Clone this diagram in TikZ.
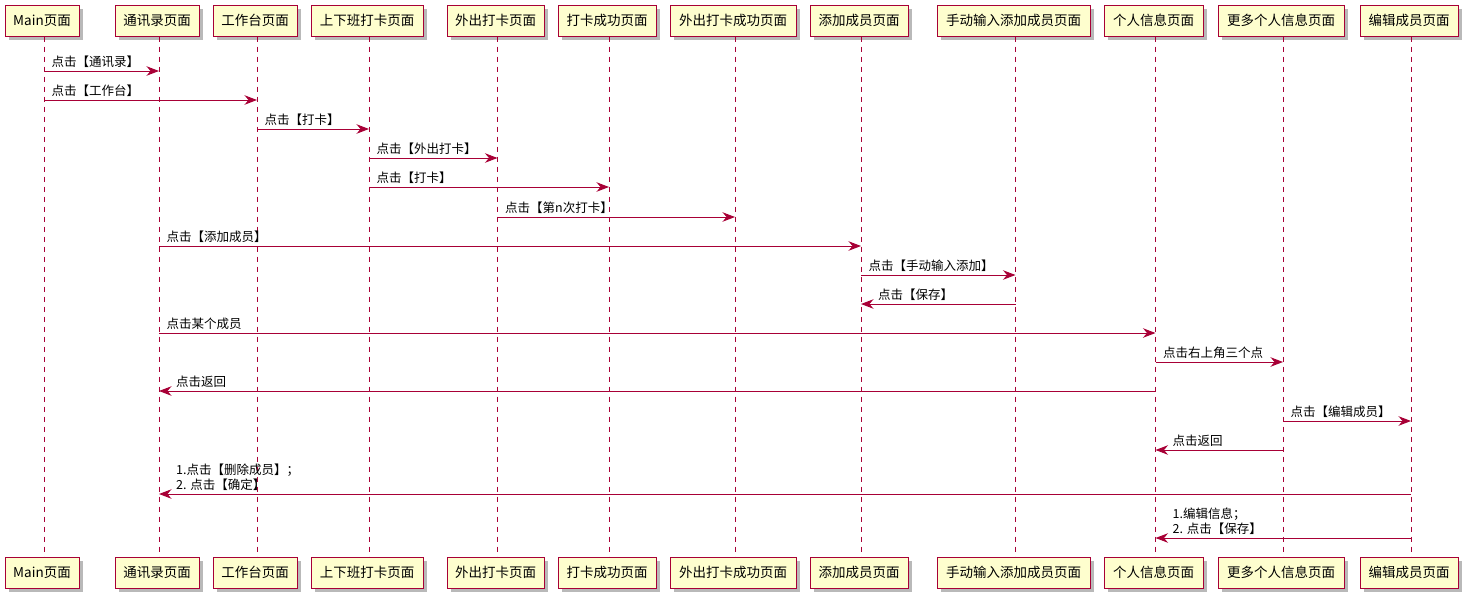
\documentclass[tikz,border=0pt]{standalone}
\usepackage{fontspec}
\setmainfont{Noto Sans CJK SC}
\usetikzlibrary{arrows.meta,shadows}
\definecolor{pfill}{HTML}{FEFECE}
\definecolor{pline}{HTML}{A80036}
\tikzset{
  part/.style={draw=pline, fill=pfill, line width=1pt, minimum height=31pt, inner sep=0pt,
    font=\fontsize{13.5}{16}\selectfont,
    drop shadow={shadow xshift=3.5pt, shadow yshift=-3.5pt, opacity=0.5, fill=black!55}},
  life/.style={draw=pline, line width=0.9pt, dash pattern=on 5pt off 5pt},
  msg/.style={draw=pline, line width=1pt, -{Stealth[length=12.5pt,width=9.5pt,inset=4pt]}},
  lbl/.style={anchor=south west, inner sep=0pt, align=left, font=\fontsize{12.5}{15}\selectfont}
}
\begin{document}
\begin{tikzpicture}[x=1pt,y=-1pt]
\useasboundingbox (0,0) rectangle (1471,598);
% participants: top (t) and bottom (b)
\foreach \i/\x/\w/\t in {1/42/74/Main页面, 2/157/84/通讯录页面, 3/255/84/工作台页面,
  4/367/112/上下班打卡页面, 5/495.5/97/外出打卡页面, 6/607/98/打卡成功页面,
  7/733/126/外出打卡成功页面, 8/859/98/添加成员页面, 9/1013.5/153/手动输入添加成员页面,
  10/1153.5/99/个人信息页面, 11/1281/126/更多个人信息页面, 12/1409/98/编辑成员页面}{
  \node[part, minimum width=\w pt] (t\i) at (\x,20.5) {\t};
  \node[part, minimum width=\w pt] (b\i) at (\x,572.5) {\t};
  \coordinate (L\i) at ([xshift=2pt]t\i.south);
  \coordinate (E\i) at ([xshift=2pt]b\i.north);
}
\foreach \i in {1,...,12}{ \draw[life] (L\i) -- (E\i); }
% message rows
\foreach \i/\y in {1/71,2/100,3/129,4/158,5/187,6/217,7/246,8/275,9/304,10/333,11/362,12/391,13/421,14/450,15/494,16/538}{
  \coordinate (r\i) at (0,\y);
}
% rightward messages: number, from, to, text
\foreach \n/\a/\b/\t in {1/1/2/点击【通讯录】, 2/1/3/点击【工作台】, 3/3/4/点击【打卡】,
  4/4/5/点击【外出打卡】, 5/4/6/点击【打卡】, 6/5/7/点击【第n次打卡】,
  7/2/8/点击【添加成员】, 8/8/9/点击【手动输入添加】, 10/2/10/点击某个成员,
  11/10/11/点击右上角三个点, 13/11/12/点击【编辑成员】}{
  \draw[msg] (L\a |- r\n) -- (L\b |- r\n);
  \path (L\a |- r\n) ++(7.5,-3) node[lbl] (m\n) {\t};
}
% leftward messages
\foreach \n/\a/\b/\t in {9/9/8/点击【保存】, 12/10/2/点击返回, 14/11/10/点击返回,
  15/12/2/{1.点击【删除成员】；\\2. 点击【确定】}, 16/12/10/{1.编辑信息；\\2. 点击【保存】}}{
  \draw[msg] (L\a |- r\n) -- (L\b |- r\n);
  \path (L\b |- r\n) ++(17,-3) node[lbl] (m\n) {\t};
}
\end{tikzpicture}
\end{document}
